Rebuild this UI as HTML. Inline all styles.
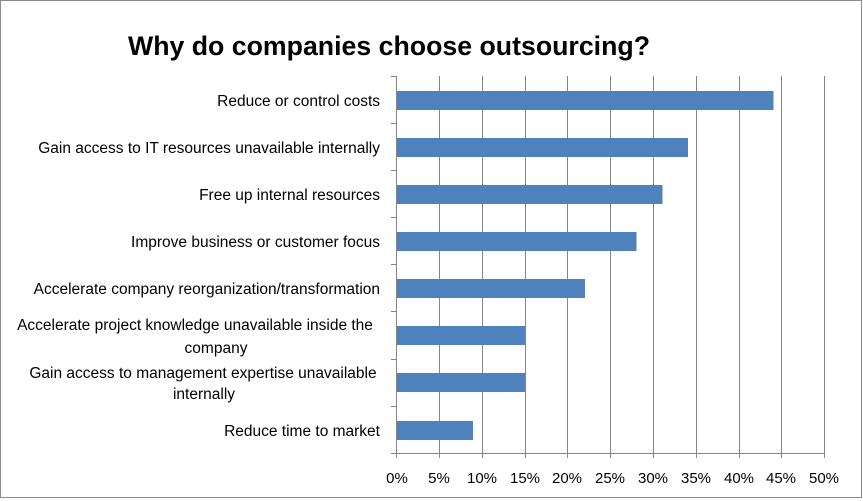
<!DOCTYPE html>
<html><head><meta charset="utf-8"><style>
body{margin:0;background:#fff;}
svg{display:block;font-family:"Liberation Sans",sans-serif;}
</style></head><body>
<svg width="863" height="501" viewBox="0 0 863 501">
<rect x="0.5" y="0.5" width="861" height="497" fill="#fff" stroke="#8c8c8c"/>
<text x="389" y="55" text-anchor="middle" font-size="26.7" font-weight="bold" fill="#000" textLength="522" lengthAdjust="spacingAndGlyphs">Why do companies choose outsourcing?</text>
<g stroke="#868686" stroke-width="1">
<line x1="439.5" y1="76" x2="439.5" y2="458"/>
<line x1="482.5" y1="76" x2="482.5" y2="458"/>
<line x1="525.5" y1="76" x2="525.5" y2="458"/>
<line x1="567.5" y1="76" x2="567.5" y2="458"/>
<line x1="610.5" y1="76" x2="610.5" y2="458"/>
<line x1="653.5" y1="76" x2="653.5" y2="458"/>
<line x1="696.5" y1="76" x2="696.5" y2="458"/>
<line x1="739.5" y1="76" x2="739.5" y2="458"/>
<line x1="781.5" y1="76" x2="781.5" y2="458"/>
<line x1="824.5" y1="76" x2="824.5" y2="458"/>
<line x1="396.5" y1="76" x2="396.5" y2="458"/>
<line x1="396" y1="453.5" x2="825" y2="453.5"/>
<line x1="391" y1="76.5" x2="396" y2="76.5"/>
<line x1="391" y1="123.5" x2="396" y2="123.5"/>
<line x1="391" y1="170.5" x2="396" y2="170.5"/>
<line x1="391" y1="217.5" x2="396" y2="217.5"/>
<line x1="391" y1="264.5" x2="396" y2="264.5"/>
<line x1="391" y1="311.5" x2="396" y2="311.5"/>
<line x1="391" y1="359.5" x2="396" y2="359.5"/>
<line x1="391" y1="406.5" x2="396" y2="406.5"/>
<line x1="391" y1="453.5" x2="396" y2="453.5"/>
</g>
<g fill="#4f81bd">
<rect x="397" y="91" width="376.5" height="19"/>
<rect x="397" y="138" width="291" height="19"/>
<rect x="397" y="185" width="265.5" height="19"/>
<rect x="397" y="232" width="239.5" height="19"/>
<rect x="397" y="279" width="188" height="19"/>
<rect x="397" y="326" width="128" height="19"/>
<rect x="397" y="373" width="128" height="19"/>
<rect x="397" y="421" width="76" height="19"/>
</g>
<g font-size="15.5" fill="#000" text-anchor="end">
<text x="380" y="106">Reduce or control costs</text>
<text x="380" y="153">Gain access to IT resources unavailable internally</text>
<text x="380" y="200">Free up internal resources</text>
<text x="380" y="247">Improve business or customer focus</text>
<text x="380" y="294">Accelerate company reorganization/transformation</text>
<text x="380" y="436">Reduce time to market</text>
</g>
<g font-size="15.5" fill="#000" text-anchor="middle">
<text x="195" y="330">Accelerate project knowledge unavailable inside the</text>
<text x="216" y="353">company</text>
<text x="203" y="378">Gain access to management expertise unavailable</text>
<text x="204" y="399">internally</text>
</g>
<g font-size="15" fill="#000" text-anchor="middle">
<text x="397" y="483">0%</text>
<text x="439" y="483">5%</text>
<text x="482" y="483">10%</text>
<text x="525" y="483">15%</text>
<text x="567" y="483">20%</text>
<text x="610" y="483">25%</text>
<text x="653" y="483">30%</text>
<text x="696" y="483">35%</text>
<text x="739" y="483">40%</text>
<text x="781" y="483">45%</text>
<text x="824" y="483">50%</text>
</g>
</svg>
</body></html>
